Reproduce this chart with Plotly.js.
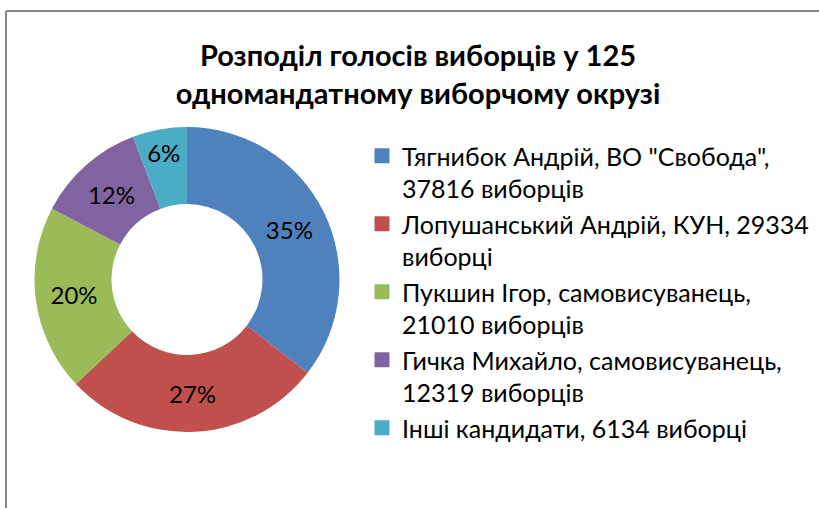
<!DOCTYPE html>
<html>
<head>
<meta charset="utf-8">
<script src="https://cdn.plot.ly/plotly-3.0.1.min.js"></script>
<style>html,body{margin:0;padding:0;background:#fff;}#chart{width:819px;height:508px;}</style>
</head>
<body>
<div id="chart"></div>
<script>
const candidates = [
  'Тягнибок Андрій, ВО "Свобода",<br>37816 виборців',
  'Лопушанський Андрій, КУН, 29334<br>виборці',
  'Пукшин Ігор, самовисуванець,<br>21010 виборців',
  'Гичка Михайло, самовисуванець,<br>12319 виборців',
  'Інші кандидати, 6134 виборці'
];
const votes = [37816, 29334, 21010, 12319, 6134];
const pctLabels = ['35%', '27%', '20%', '12%', '6%'];
const colors = ['#4F81BD', '#C0504D', '#9BBB59', '#8064A2', '#4BACC6'];

const FONT = 'Lato, "Noto Sans", sans-serif';

const trace = {
  type: 'pie',
  labels: candidates,
  values: votes,
  text: pctLabels,
  textinfo: 'text',
  textposition: 'inside',
  insidetextorientation: 'horizontal',
  insidetextfont: {family: FONT, size: 24, color: '#000'},
  hole: 0.495,
  sort: false,
  direction: 'clockwise',
  rotation: 0,
  marker: {colors: colors, line: {color: '#fff', width: 0}},
  domain: {x: [34/819, 340/819], y: [1 - 432/508, 1 - 127/508]},
  hoverinfo: 'label+value'
};

const layout = {
  width: 819,
  height: 508,
  margin: {l: 0, r: 0, t: 0, b: 0},
  paper_bgcolor: '#fff',
  font: {family: FONT, color: '#000'},
  title: {
    text: '<b>Розподіл голосів виборців у 125<br>одномандатному виборчому окрузі</b>',
    font: {family: FONT, size: 29, color: '#000'},
    x: 418/819, xanchor: 'center',
    y: 1 - 66/508, yanchor: 'middle'
  },
  showlegend: true,
  legend: {
    x: 362/819, xanchor: 'left',
    y: 1 - 133/508, yanchor: 'top',
    font: {family: FONT, size: 25, color: '#000'},
    valign: 'top',
    itemwidth: 30,
    bgcolor: 'rgba(0,0,0,0)'
  },
  shapes: [
    {type: 'line', xref: 'paper', yref: 'paper', x0: 6/819, x1: 1.01, y0: 1 - 11/508, y1: 1 - 11/508, line: {color: '#878787', width: 2}},
    {type: 'line', xref: 'paper', yref: 'paper', x0: 6/819, x1: 6/819, y0: 1 - 11/508, y1: -0.01, line: {color: '#878787', width: 2}}
  ]
};

Plotly.newPlot('chart', [trace], layout, {displayModeBar: false, staticPlot: true}).then(function () {
  // enlarge the legend swatches to match the reference's 15px squares
  document.querySelectorAll('#chart .legendpoints path.legendpie').forEach(function (p) {
    p.setAttribute('d', 'M7.5,7.5H-7.5V-7.5H7.5Z');
  });
});
</script>
</body>
</html>
